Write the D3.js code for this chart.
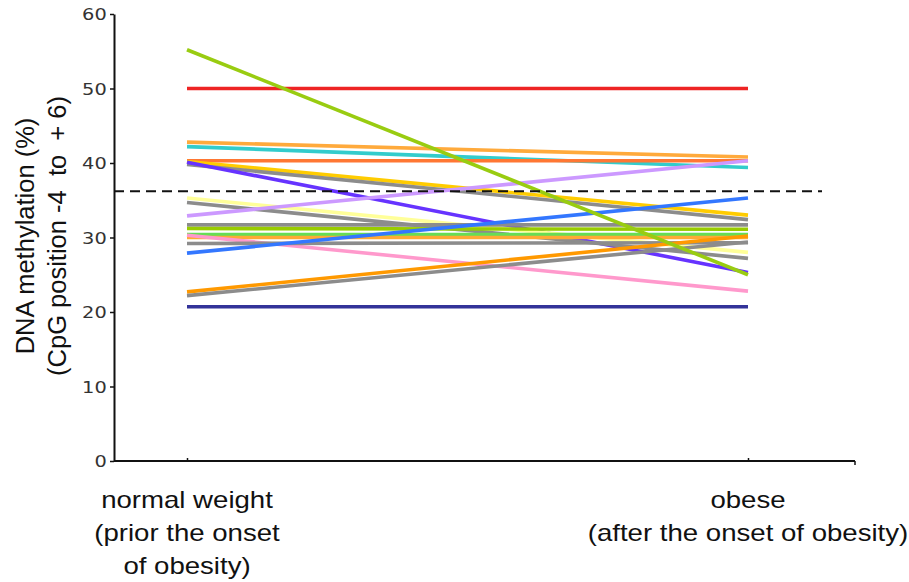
<!DOCTYPE html>
<html><head><meta charset="utf-8">
<script src="https://cdn.jsdelivr.net/npm/d3@7"></script>
<style>body{margin:0;background:#fff}svg{display:block}</style>
</head><body>
<svg id="c" width="909" height="582"></svg>
<script>
const categories = ["normal weight", "obese"];
const beforeValues = [50, 42.8, 42.2, 40.3, 40.2, 39.8, 40.1, 35.3, 34.7, 32.9, 31.7, 31.2, 30.4, 30.0, 30.3, 29.2, 27.9, 22.7, 22.2, 20.7, 55.2];
const afterValues  = [50, 40.8, 39.4, 40.3, 33.0, 32.4, 25.3, 28.0, 27.2, 40.3, 31.7, 31.1, 30.4, 30.0, 22.8, 29.3, 35.3, 30.2, 29.4, 20.7, 25.0];
const lineColors = ["#ee2424", "#ffaa3c", "#33cccc", "#ff7733", "#ffcc00", "#8c8c8c", "#6633ff", "#ffff99", "#8c8c8c", "#cc99ff", "#8c8c8c", "#99cc00", "#66dd55", "#ffaa33", "#ff99cc", "#8c8c8c", "#3377ff", "#ff9900", "#8c8c8c", "#333399", "#99cc11"];
const yTicks = [0, 10, 20, 30, 40, 50, 60];
const thresholdValue = 36.2;
const xLabelLines = [["normal weight", "(prior the onset", "of obesity)"], ["obese", "(after the onset of obesity)"]];
const yLabelLines = ["DNA methylation (%)", "(CpG position -4  to  + 6)"];

const svg = d3.select("#c");
const y = d3.scaleLinear().domain([0, 60]).range([461, 14]);
const x = d3.scalePoint().domain(categories).range([187, 748]);
const axisLeft = 114, axisRight = 855;

// Lines
const series = beforeValues.map((b, i) => ({v: [b, afterValues[i]], c: lineColors[i]}));
const line = d3.line().x((d, i) => x(categories[i])).y(d => y(d));
svg.append("g").selectAll("path").data(series).join("path")
  .attr("d", d => line(d.v)).attr("fill", "none")
  .attr("stroke", d => d.c).attr("stroke-width", 3.6);

// Threshold dashed line
svg.append("line").attr("x1", axisLeft).attr("x2", 822)
  .attr("y1", y(thresholdValue)).attr("y2", y(thresholdValue))
  .attr("stroke", "#111").attr("stroke-width", 2).attr("stroke-dasharray", "10,6");

// Y axis
const gy = svg.append("g").attr("transform", `translate(${axisLeft},0)`)
  .call(d3.axisLeft(y).tickValues(yTicks).tickSize(4).tickSizeOuter(0).tickPadding(3));
gy.select(".domain").attr("stroke", "#111").attr("stroke-width", 2);
gy.selectAll(".tick line").attr("stroke", "#111").attr("stroke-width", 1.5);
gy.selectAll(".tick text").attr("font-family", "DejaVu Sans").attr("font-size", 15.5).attr("fill", "#333")
  .attr("transform", "scale(1.25,1)").attr("x", -6/1.25 - 1).attr("dy", "0.36em");

// X axis
svg.append("line").attr("x1", axisLeft).attr("x2", axisRight).attr("y1", 461).attr("y2", 461)
  .attr("stroke", "#111").attr("stroke-width", 2);
const gx = svg.append("g").attr("transform", "translate(0,461)")
  .call(d3.axisTop(x).tickSize(3).tickSizeOuter(0).tickFormat(""));
gx.select(".domain").remove();
gx.selectAll(".tick line").attr("stroke", "#111").attr("stroke-width", 1.5);
svg.append("line").attr("x1", axisRight).attr("x2", axisRight).attr("y1", 461).attr("y2", 465)
  .attr("stroke", "#111").attr("stroke-width", 1.5);

// X labels
categories.forEach((c, i) => {
  const t = svg.append("text").attr("font-family", "Liberation Sans").attr("font-size", 23)
    .attr("fill", "#111").attr("text-anchor", "middle")
    .attr("transform", `translate(${x(c)},0) scale(1.2,1)`);
  xLabelLines[i].forEach((s, j) => t.append("tspan").attr("x", 0).attr("y", 508 + j * 33).text(s));
});

// Y label
const yl = svg.append("text").attr("font-family", "Liberation Sans").attr("font-size", 25.5)
  .attr("fill", "#111").attr("text-anchor", "middle").style("white-space", "pre")
  .attr("transform", "translate(0,236) rotate(-90)");
yLabelLines.forEach((s, j) => yl.append("tspan").attr("x", 0).attr("y", 34 + j * 32).text(s));
</script>
</body></html>
